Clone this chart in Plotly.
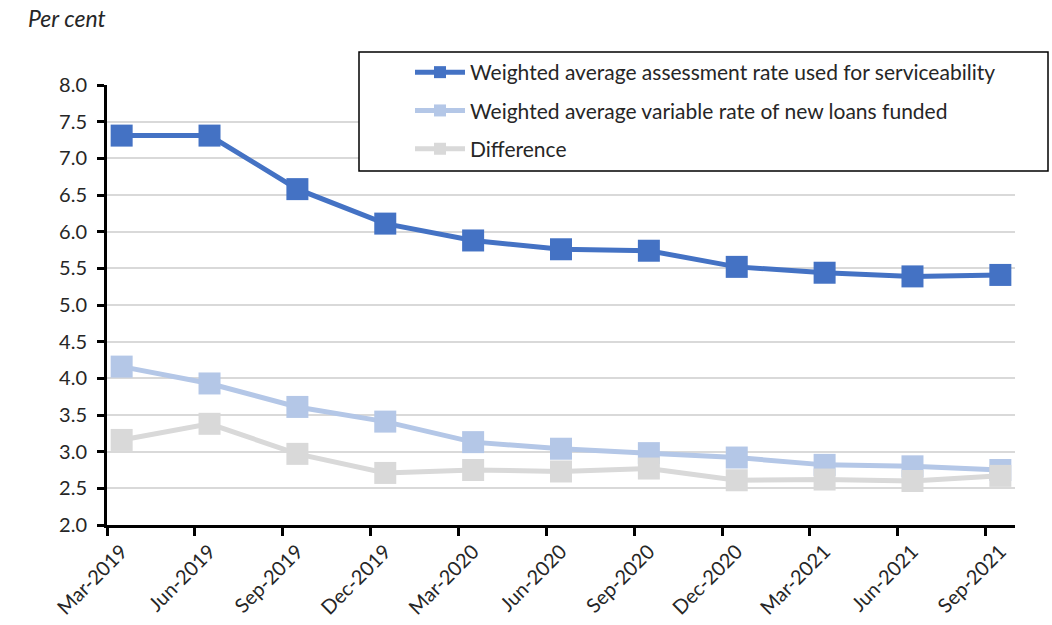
import plotly.graph_objects as go

quarters = ["Mar-2019", "Jun-2019", "Sep-2019", "Dec-2019", "Mar-2020", "Jun-2020",
            "Sep-2020", "Dec-2020", "Mar-2021", "Jun-2021", "Sep-2021"]
assessment = [7.31, 7.31, 6.58, 6.11, 5.88, 5.76, 5.74, 5.52, 5.44, 5.39, 5.41]
variable = [4.16, 3.93, 3.61, 3.41, 3.13, 3.04, 2.98, 2.92, 2.82, 2.80, 2.75]
difference = [3.16, 3.38, 2.97, 2.71, 2.75, 2.73, 2.77, 2.61, 2.62, 2.60, 2.67]
y_ticks = [2.0, 2.5, 3.0, 3.5, 4.0, 4.5, 5.0, 5.5, 6.0, 6.5, 7.0, 7.5, 8.0]

# monthly date-style axis: each quarter point sits in the middle of its month slot
xpos = [3 * i + 0.5 for i in range(len(quarters))]
slot_starts = [3 * i for i in range(len(quarters))]

W, H = 1052, 625
ml, mr, mt, mb = 107, 37, 85, 100
pw, ph = W - ml - mr, H - mt - mb

def px(x):
    return (x - ml) / pw

def py(y):
    return (H - mb - y) / ph

FONT = "Lato"
TXT = "#262626"

series = [
    ("Weighted average assessment rate used for serviceability", assessment, "#4472C4"),
    ("Weighted average variable rate of new loans funded", variable, "#B4C7E7"),
    ("Difference", difference, "#D9D9D9"),
]

fig = go.Figure()
for k, (name, vals, col) in enumerate(series):
    fig.add_trace(go.Scatter(
        x=xpos, y=vals, name=name, mode="lines+markers",
        legendgroup=f"g{k}",
        line=dict(color=col, width=5),
        marker=dict(symbol="square", size=22, color=col),
        cliponaxis=False,
    ))

fig.add_shape(type="rect", xref="paper", yref="paper",
              x0=px(359), x1=px(1048), y0=py(171), y1=py(52),
              line=dict(color="black", width=1.5), fillcolor="white", layer="above")

fig.add_annotation(text="<i>Per cent</i>", xref="paper", yref="paper",
                   x=px(26), y=py(18), xanchor="left", yanchor="middle",
                   showarrow=False, font=dict(family=FONT, size=23, color=TXT))

fig.update_layout(
    width=W, height=H,
    margin=dict(l=ml, r=mr, t=mt, b=mb, autoexpand=False),
    paper_bgcolor="white", plot_bgcolor="white",
    font=dict(family=FONT, color=TXT),
    showlegend=True,
    legend=dict(
        x=px(410), y=py(52), xanchor="left", yanchor="top",
        bgcolor="rgba(0,0,0,0)", borderwidth=0,
        font=dict(family=FONT, size=21, color=TXT),
        itemwidth=50, itemsizing="constant", tracegroupgap=8,
    ),
    xaxis=dict(
        range=[0, 31], tickmode="array", tickvals=xpos, ticktext=quarters,
        tickangle=-45, ticks="", showgrid=False, zeroline=False,
        showline=True, linecolor="black", linewidth=3,
        ticklabelstandoff=4, automargin=False,
        tickfont=dict(family=FONT, size=20, color=TXT),
        minor=dict(tickmode="array", tickvals=slot_starts, ticks="outside",
                   ticklen=8, tickwidth=3, tickcolor="black", showgrid=False),
    ),
    yaxis=dict(
        range=[2, 8], tickmode="array", tickvals=y_ticks,
        ticktext=[f"{v:.1f}" for v in y_ticks],
        ticks="outside", ticklen=7, tickwidth=3, tickcolor="black",
        showline=True, linecolor="black", linewidth=3,
        showgrid=True, gridcolor="#D9D9D9", gridwidth=2, zeroline=False,
        ticklabelstandoff=6, automargin=False,
        tickfont=dict(family=FONT, size=20, color=TXT),
    ),
)

fig.write_html("out.html")
